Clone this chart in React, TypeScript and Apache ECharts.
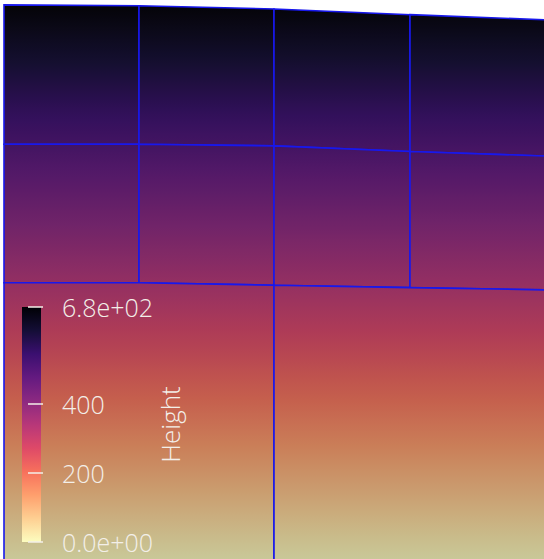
import React, { useEffect, useRef } from 'react';
import * as echarts from 'echarts';

// Mesh node columns (position) and the Height at each horizontal mesh line
const columnX = [4, 139, 274, 410, 560];
const topEdgeH = [680, 679, 675, 668, 661];
const line1H = [509, 509, 507, 500, 494];
const line2H = [339, 339, 336, 333, 330];
const bottomH = [-2, -2, -2, -2, -2];
const bottomRowSplits = [0, 2, 4];

// Colour scale
const HEIGHT_MIN = 0;
const HEIGHT_MAX = 680;
const tickValues = [0, 200, 400, 680];
const tickLabels = ['0.0e+00', '200', '400', '6.8e+02'];
const MAGMA = ['#000004', '#140e36', '#3b0f70', '#641a80', '#8c2981', '#b73779', '#de4968', '#f7705c', '#fe9f6d', '#fecf92', '#fcfdbf'];

function hexToRgb(h: string) {
  return [parseInt(h.slice(1, 3), 16), parseInt(h.slice(3, 5), 16), parseInt(h.slice(5, 7), 16)];
}
function magma(t: number) {
  const c = Math.max(0, Math.min(1, t)) * 10;
  const i = Math.min(9, Math.floor(c));
  const f = c - i;
  const a = hexToRgb(MAGMA[i]);
  const b = hexToRgb(MAGMA[i + 1]);
  return a.map((v, k) => v + (b[k] - v) * f);
}
function shadedColor(h: number) {
  const rgb = magma(1 - (h - HEIGHT_MIN) / (HEIGHT_MAX - HEIGHT_MIN));
  const s = rgb.map((v) => Math.round(Math.min(255, v * 0.78 + 4)));
  return `rgb(${s[0]},${s[1]},${s[2]})`;
}

type Pt = [number, number];
function buildCells(): Pt[][] {
  const cells: Pt[][] = [];
  const rows = [topEdgeH, line1H];
  const nexts = [line1H, line2H];
  for (let r = 0; r < 2; r++) {
    for (let i = 0; i < columnX.length - 1; i++) {
      cells.push([
        [columnX[i], rows[r][i]],
        [columnX[i + 1], rows[r][i + 1]],
        [columnX[i + 1], nexts[r][i + 1]],
        [columnX[i], nexts[r][i]],
      ]);
    }
  }
  for (let s = 0; s < bottomRowSplits.length - 1; s++) {
    const a = bottomRowSplits[s];
    const b = bottomRowSplits[s + 1];
    const poly: Pt[] = [];
    for (let i = a; i <= b; i++) poly.push([columnX[i], line2H[i]]);
    poly.push([columnX[b], bottomH[b]]);
    poly.push([columnX[a], bottomH[a]]);
    cells.push(poly);
  }
  return cells;
}

export default function App() {
  const ref = useRef<HTMLDivElement>(null);
  useEffect(() => {
    document.body.style.margin = '0';
    document.body.style.background = '#ffffff';
    const chart = echarts.init(ref.current!, undefined, { renderer: 'svg' });
    const cells = buildCells();
    const labelColor = '#f3efe9';
    const option: any = {
      animation: false,
      backgroundColor: '#ffffff',
      grid: [
        { left: 0, top: 0, width: 544, height: 559 },
        { left: 22, top: 307, width: 19, height: 235 },
      ],
      xAxis: [
        { type: 'value', gridIndex: 0, min: 0, max: 544, show: false },
        { type: 'value', gridIndex: 1, min: 0, max: 1, show: false },
      ],
      yAxis: [
        { type: 'value', gridIndex: 0, min: 0, max: 686, show: false },
        {
          type: 'value',
          gridIndex: 1,
          z: 10,
          min: HEIGHT_MIN,
          max: HEIGHT_MAX,
          position: 'right',
          offset: -6,
          axisLine: { show: false },
          splitLine: { show: false },
          axisTick: {
            show: true,
            customValues: tickValues,
            length: 15,
            inside: false,
            lineStyle: { color: labelColor, width: 1.5 },
          },
          axisLabel: {
            show: true,
            customValues: tickValues,
            margin: 27,
            color: labelColor,
            fontSize: 25,
            fontFamily: 'Open Sans',
            fontWeight: 300,
            padding: [0, 0, 5, 0],
            formatter: (v: number) => {
              const i = tickValues.indexOf(v);
              return i >= 0 ? tickLabels[i] : '';
            },
          },
          name: 'Height',
          nameLocation: 'middle',
          nameRotate: 90,
          nameGap: 120,
          nameTextStyle: { color: labelColor, fontSize: 26, fontFamily: 'Open Sans', fontWeight: 300 },
        },
      ],
      series: [
        {
          type: 'custom',
          xAxisIndex: 0,
          yAxisIndex: 0,
          clip: false,
          z: 1,
          data: cells.map((c) => [c[0][0], c[0][1]]),
          renderItem: (params: any, api: any) => {
            const poly = cells[params.dataIndex];
            const pts = poly.map((p) => api.coord(p));
            const hs = poly.map((p) => p[1]);
            const hMax = Math.max(...hs);
            const hMin = Math.min(...hs);
            const stops = [];
            const n = 12;
            for (let k = 0; k <= n; k++) {
              const h = hMax - ((hMax - hMin) * k) / n;
              stops.push({ offset: k / n, color: shadedColor(h) });
            }
            return {
              type: 'polygon',
              shape: { points: pts },
              style: {
                fill: new echarts.graphic.LinearGradient(0, 0, 0, 1, stops),
                stroke: '#1818ec',
                lineWidth: 1.6,
              },
            };
          },
        },
        {
          type: 'custom',
          xAxisIndex: 1,
          yAxisIndex: 1,
          z: 3,
          data: [[0, HEIGHT_MAX]],
          renderItem: (params: any, api: any) => {
            const p0 = api.coord([0, HEIGHT_MAX]);
            const p1 = api.coord([1, HEIGHT_MIN]);
            return {
              type: 'rect',
              shape: { x: p0[0], y: p0[1], width: p1[0] - p0[0], height: p1[1] - p0[1] },
              style: {
                fill: new echarts.graphic.LinearGradient(
                  0, 0, 0, 1,
                  MAGMA.map((c, i) => ({ offset: i / (MAGMA.length - 1), color: c }))
                ),
              },
            };
          },
        },
      ],
    };
    chart.setOption(option);
    return () => chart.dispose();
  }, []);
  return <div ref={ref} style={{ position: 'absolute', left: 0, top: 0, width: 544, height: 559 }} />;
}
